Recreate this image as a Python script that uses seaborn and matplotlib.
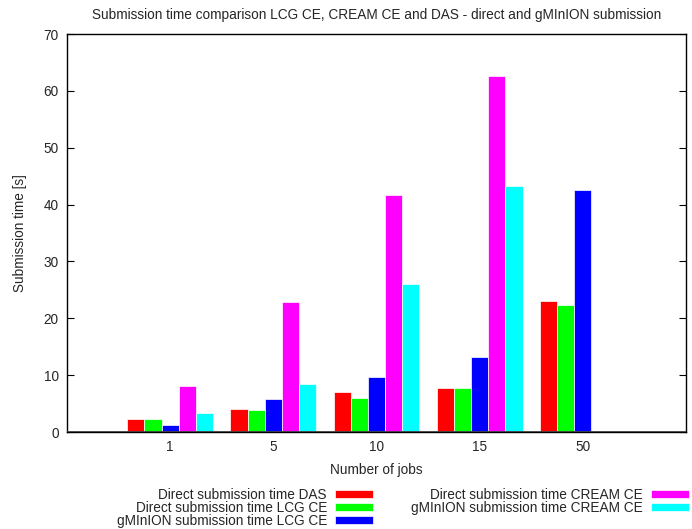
import numpy as np
import pandas as pd
import matplotlib
matplotlib.use("Agg")
import matplotlib.pyplot as plt
import seaborn as sns

jobs = ["1", "5", "10", "15", "50"]
series = [
    "Direct submission time DAS",
    "Direct submission time LCG CE",
    "gMInION submission time LCG CE",
    "Direct submission time CREAM CE",
    "gMInION submission time CREAM CE",
]
das = [2.3, 4.0, 7.0, 7.7, 23.0]
lcg = [2.2, 3.9, 6.0, 7.7, 22.3]
gm_lcg = [1.3, 5.8, 9.7, 13.2, 42.6]
cream = [8.1, 22.8, 41.7, 62.6, np.nan]
gm_cream = [3.4, 8.4, 26.0, 43.3, np.nan]
colors = ["#ff0000", "#00ff00", "#0000ff", "#ff00ff", "#00ffff"]

rows = []
for name, vals in zip(series, [das, lcg, gm_lcg, cream, gm_cream]):
    for j, v in zip(jobs, vals):
        if not np.isnan(v):
            rows.append({"jobs": j, "series": name, "time": v})
df = pd.DataFrame(rows)

FS = 9.8
sns.set_style("white")
plt.rcParams["font.family"] = ["Liberation Sans", "DejaVu Sans"]
plt.rcParams["font.size"] = FS

fig = plt.figure(figsize=(6.92, 5.29), dpi=100)
ax = fig.add_axes([67/692, 1-432/529, (686-67)/692, (432-34)/529])

sns.barplot(data=df, x="jobs", y="time", hue="series", order=jobs,
            hue_order=series, palette=colors, width=5/6, gap=0,
            errorbar=None, ax=ax, edgecolor="white", linewidth=0.5,
            saturation=1, legend=True)

ax.set_xlim(-1, 5)
ax.set_ylim(0, 70)
ax.set_yticks(np.arange(0, 71, 10))
ax.axhline(0, color="#404040", lw=2, zorder=5)
for s in ax.spines.values():
    s.set_color("black")
    s.set_linewidth(1.0)
ax.tick_params(axis="y", which="both", direction="in", length=5, right=True,
               left=True, labelsize=FS, pad=6, color="black")
ax.tick_params(axis="x", direction="in", length=5, bottom=True, top=False,
               labelsize=FS, pad=6)
ax.set_xlabel("Number of jobs", fontsize=FS, labelpad=6)
ax.set_ylabel("Submission time [s]", fontsize=FS, labelpad=12)
fig.text(377/692, 1-15/529, "Submission time comparison LCG CE, CREAM CE and DAS - direct and gMInION submission",
         ha="center", va="center", fontsize=FS)

handles, labels = ax.get_legend_handles_labels()
ax.get_legend().remove()
fig.legend(handles, labels, ncol=2, markerfirst=False, frameon=False,
           loc="upper center", bbox_to_anchor=(403/692, 1-481/529),
           borderpad=0, labelspacing=-0.08, handlelength=2.8, handleheight=0.55,
           handletextpad=0.6, columnspacing=2.8, fontsize=FS)

fig.savefig("out.png", dpi=100)
